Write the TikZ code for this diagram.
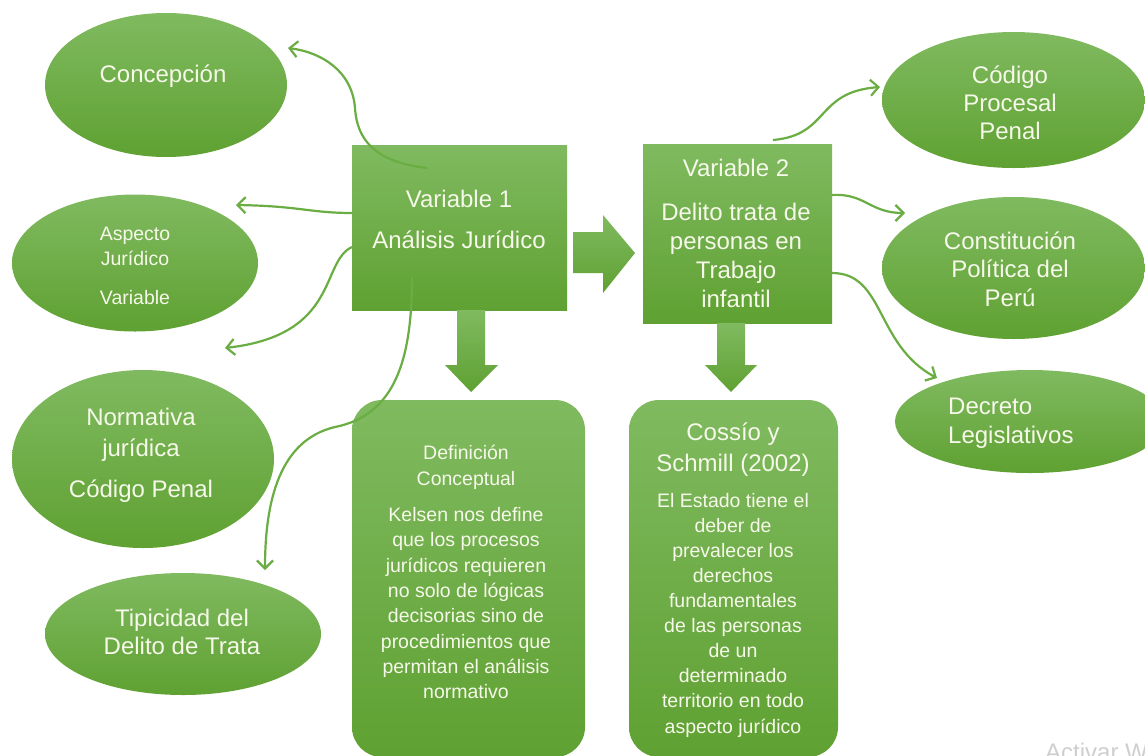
\documentclass[tikz,border=0pt]{standalone}
\usepackage{fontspec}
\setmainfont{Liberation Sans}
\usetikzlibrary{arrows.meta,shapes.geometric}
\definecolor{gtop}{HTML}{80BA60}
\definecolor{gbot}{HTML}{5FA132}
\definecolor{gline}{HTML}{6AAD43}
\definecolor{tcol}{HTML}{F6F8EA}
\definecolor{wm}{HTML}{CFCFCF}
\begin{document}
\begin{tikzpicture}[x=1pt,y=-1pt,
  gfill/.style={top color=gtop,bottom color=gbot,draw=none},
  ellshape/.style={gfill,ellipse,inner sep=0pt},
  boxshape/.style={gfill,rectangle,inner sep=0pt},
  rboxshape/.style={gfill,rectangle,rounded corners=30pt,inner sep=0pt},
  big/.style={text=tcol,align=center,inner sep=0pt,font=\fontsize{24}{29}\selectfont},
  small/.style={text=tcol,align=center,inner sep=0pt,font=\fontsize{19.5}{25.3}\selectfont},
  conn/.style={draw=gline,line width=2.2pt,-{Straight Barb[length=8pt,width=16pt]}}]
\useasboundingbox (0,0) rectangle (1145,755);
\clip (0,0) rectangle (1145,755);
\fill[white] (0,0) rectangle (1145,755);

% left ellipses
\node[ellshape,minimum width=242pt,minimum height=144pt] (conc) at (166,85) {};
\node[ellshape,minimum width=246pt,minimum height=137pt] (asp) at (135,263) {};
\node[ellshape,minimum width=262pt,minimum height=178pt] (norm) at (143,459) {};
\node[ellshape,minimum width=276pt,minimum height=122pt] (tip) at (183,634) {};

% right ellipses
\node[ellshape,minimum width=263pt,minimum height=136pt] (cpp) at (1013.5,100) {};
\node[ellshape,minimum width=263pt,minimum height=142pt] (cpol) at (1013.5,268) {};
\node[ellshape,minimum width=270pt,minimum height=103pt] (dec) at (1030,421.5) {};

% main boxes
\node[boxshape,minimum width=215pt,minimum height=165pt] (v1) at (459.5,227.5) {};
\node[boxshape,minimum width=189pt,minimum height=179pt] (v2) at (737.5,233.5) {};
\node[rboxshape,minimum width=233pt,minimum height=357pt] (def) at (468.5,578.5) {};
\node[rboxshape,minimum width=209pt,minimum height=357pt] (cos) at (733.5,578.5) {};

% block arrows
\path[gfill] (573,232) -- (603,232) -- (603,215) -- (635,253) -- (603,293) -- (603,273) -- (573,273) -- cycle;
\path[gfill] (457,310) -- (485,310) -- (485,365) -- (498,365) -- (471,392) -- (445,365) -- (457,365) -- cycle;
\path[gfill] (717,323) -- (745,323) -- (745,365) -- (757,365) -- (731,392) -- (705,365) -- (717,365) -- cycle;

% texts
\node[big] (concT) at (163,76) {Concepción};
\node[small] (aspT) at (135,266) {Aspecto\\Jurídico\\[14pt]Variable};
\node[big,font=\fontsize{24}{31}\selectfont] (normT) at (141,455) {Normativa\\jurídica\\[10pt]Código Penal};
\node[big,font=\fontsize{24}{28}\selectfont] (tipT) at (182,632) {Tipicidad del\\Delito de Trata};
\node[big,font=\fontsize{24}{41}\selectfont] (v1T) at (459,219) {Variable 1\\Análisis Jurídico};
\node[big] (v2T) at (736,233) {Variable 2\\[15pt]Delito trata de\\personas en\\Trabajo\\infantil};
\node[small] (defT) at (466,572) {Definición\\[0.7pt]Conceptual\\[10.7pt]Kelsen nos define\\que los procesos\\jurídicos requieren\\no solo de lógicas\\decisorias sino de\\procedimientos que\\permitan el análisis\\normativo};
\node[big,font=\fontsize{24}{31}\selectfont] (cosH) at (733,450) {Cossío y\\Schmill (2002)};
\node[small,font=\fontsize{19.5}{25.1}\selectfont] (cosB) at (733,615) {El Estado tiene el\\deber de\\prevalecer los\\derechos\\fundamentales\\de las personas\\de un\\determinado\\territorio en todo\\aspecto jurídico};
\node[big,font=\fontsize{24}{28}\selectfont] (cppT) at (1010,103) {Código\\Procesal\\Penal};
\node[big,font=\fontsize{24}{28.5}\selectfont] (cpolT) at (1010,269) {Constitución\\Política del\\Perú};
\node[big,align=left,anchor=west] (decT) at (948,423) {Decreto\\Legislativos};

% connector end points
\coordinate (s1) at (427,168);
\coordinate (e1) at (288,48);
\coordinate (s2) at (352,213);
\coordinate (e2) at (236,205);
\coordinate (s3) at (352,247);
\coordinate (e3) at (225,348);
\coordinate (s4) at (412,277);
\coordinate (e4) at (265,570);
\coordinate (s5) at (773,140);
\coordinate (e5) at (880,87);
\coordinate (s6) at (832,195);
\coordinate (e6) at (905,213);
\coordinate (s7) at (832,273);
\coordinate (e7) at (937,378);

\draw[conn] (s1) .. controls (375,162) and (357,140) .. (355,108) .. controls (352,70) and (320,52) .. (e1);
\draw[conn] (s2) .. controls (310,213) and (300,206) .. (e2);
\draw[conn] (s3) .. controls (320,262) and (340,335) .. (e3);
\draw[conn] (s4) .. controls (412,360) and (395,415) .. (335,427) .. controls (280,440) and (265,500) .. (e4);
\draw[conn] (s5) .. controls (830,135) and (815,92) .. (e5);
\draw[conn] (s6) .. controls (865,193) and (870,213) .. (e6);
\draw[conn] (s7) .. controls (885,273) and (875,345) .. (e7);

% watermark (cut off at the lower edge, as in the reference)
\node[anchor=base west,inner sep=0pt,text=wm,font=\fontsize{24}{24}\selectfont] (wmk) at (1045,760) {Activar W};
\end{tikzpicture}
\end{document}
